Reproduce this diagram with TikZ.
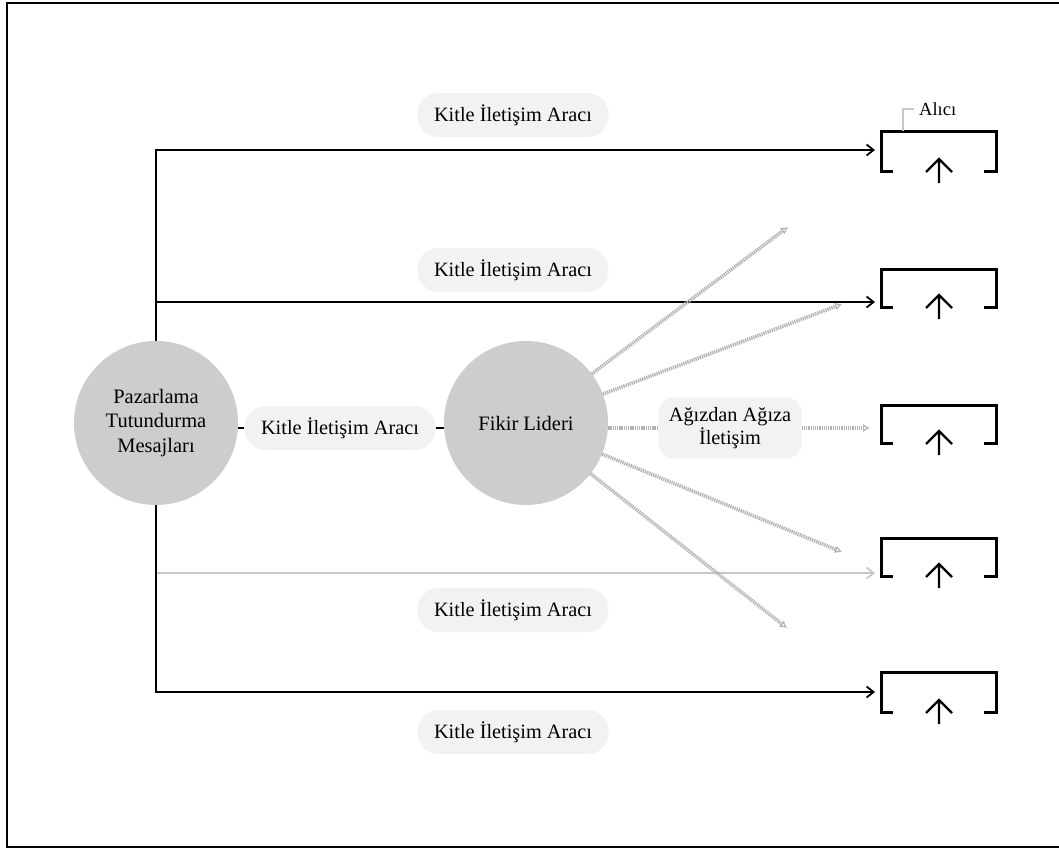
\documentclass[tikz,border=0pt]{standalone}
\usepackage{fontspec}
\setmainfont{Liberation Serif}
\usetikzlibrary{arrows.meta}
\definecolor{pillfill}{RGB}{242,242,242}
\definecolor{discfill}{RGB}{205,205,205}
\definecolor{softline}{RGB}{200,200,200}
\definecolor{womline}{RGB}{178,178,178}
\begin{document}
\begin{tikzpicture}[x=1pt,y=-1pt,
  disc/.style={circle, fill=discfill, minimum size=164pt, inner sep=0pt, align=center,
    font=\fontsize{20.5}{24.5}\selectfont},
  pill/.style={rectangle, rounded corners=21pt, fill=pillfill, minimum width=191pt,
    minimum height=44pt, inner sep=0pt, font=\fontsize{20.3}{24}\selectfont},
  wompill/.style={rectangle, rounded corners=15pt, fill=pillfill, minimum width=143pt,
    minimum height=61pt, inner sep=0pt, align=center, font=\fontsize{20.3}{23.5}\selectfont},
  feed/.style={line width=2pt, -{Straight Barb[length=7pt,width=11pt,line width=1.8pt]}},
  feedsoft/.style={feed, draw=softline},
  stub/.style={line width=2pt},
  wom/.style={draw=womline, line width=3.6pt, dash pattern=on 1.3pt off 0.9pt,
    -{Latex[open,length=7pt,width=8pt,line width=1.2pt]}},
  boxline/.style={line width=3pt, line cap=butt, line join=miter},
  upline/.style={line width=2.2pt, line cap=butt, line join=miter},
  tag/.style={line width=1.2pt, draw=softline}
]
\useasboundingbox (0,0) rectangle (1059,849);
% outer frame
\draw[line width=2pt] (7,3) rectangle (1075,847);

% receiver boxes with their inward arrows
\foreach \i/\t/\b/\a in {1/131/171/150, 2/269/307/302, 3/405/443/428, 4/538/576/573, 5/672/712/692} {
  \draw[boxline] (893,\b) -- (881,\b) -- (881,\t) -- (996,\t) -- (996,\b) -- (984,\b);
  \draw[upline] (939,\b+12) -- (939,\b-11) (926,\b+1) -- (939,\b-12) -- (952,\b+1);
  \coordinate (rin\i) at (875,\a);
}

% receiver tag
\coordinate (tagfoot) at (903,131);
\node[anchor=west, inner sep=0pt, font=\fontsize{18.5}{20}\selectfont] (alici) at (919,109) {Alıcı};
\draw[tag] (tagfoot) |- ([xshift=-5pt]alici.west);

% main nodes
\node[disc] (paz) at (156,423) {Pazarlama\\Tutundurma\\Mesajları};
\node[disc] (fikir) at (526,423) {Fikir Lideri};

% channel labels
\node[pill] (p1) at (513,115) {Kitle İletişim Aracı};
\node[pill] (p2) at (513,270) {Kitle İletişim Aracı};
\node[pill] (p4) at (513,610) {Kitle İletişim Aracı};
\node[pill] (p5) at (513,732) {Kitle İletişim Aracı};
\node[pill] (mid) at (340,428) {Kitle İletişim Aracı};
\node[wompill] (wp) at (730,428) {Ağızdan Ağıza\\İletişim};

% mass media links
\coordinate (t2) at (156,302);
\coordinate (t4) at (156,573);
\draw[feed] (paz.north) |- (rin1);
\draw[feed] (t2) -- (rin2);
\draw[feedsoft] (t4) -- (rin4);
\draw[feed] (paz.south) |- (rin5);

% link to the opinion leader
\draw[stub] (paz.east |- mid.west) -- (mid.west);
\draw[stub] (mid.east) -- (fikir.west |- mid.east);

% word of mouth
\coordinate (e1) at (788,227);
\coordinate (e2) at (842,304);
\coordinate (e3) at (870,428);
\coordinate (e4) at (842,552);
\coordinate (e5) at (787,628);
\draw[wom] (fikir) -- (e1);
\draw[wom] (fikir) -- (e2);
\draw[wom,-] (fikir.east |- wp.west) -- (wp.west);
\draw[wom] (wp.east) -- (e3);
\draw[wom] (fikir) -- (e4);
\draw[wom] (fikir) -- (e5);
\end{tikzpicture}
\end{document}
